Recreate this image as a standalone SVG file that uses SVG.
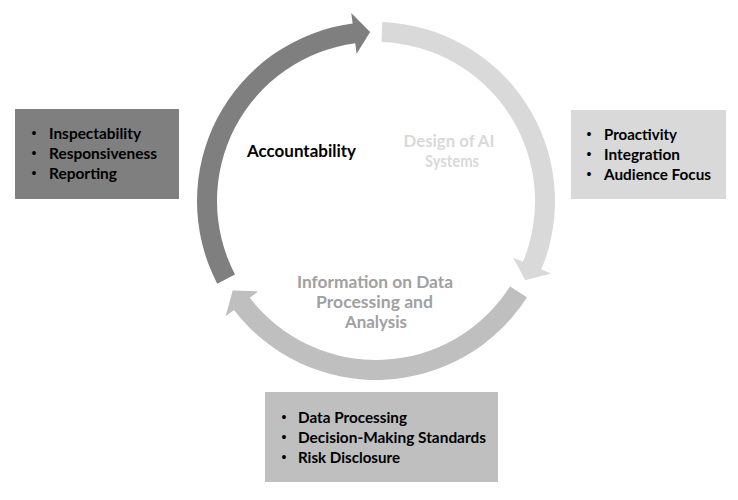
<svg xmlns="http://www.w3.org/2000/svg" width="738" height="500" viewBox="0 0 738 500">
<style>
.t{font-family:Lato,"Liberation Sans",sans-serif;font-weight:bold;font-size:16px;fill:#000}
.lbl{font-family:Lato,"Liberation Sans",sans-serif;font-weight:bold;font-size:17.5px}
.b{font-family:"Liberation Sans",sans-serif;font-size:14px;fill:#000;text-anchor:middle}
</style>
<rect width="738" height="500" fill="#fff"/>
<g id="connectors">
<path id="arrow-accountability" fill="#7f7f7f" d="M217.23 283.65 A179 179 0 0 1 352.64 23.53 L351.26 13.12 L370.10 32.10 L356.62 53.77 L355.25 43.36 A159 159 0 0 0 234.97 274.42 Z"/>
<path id="arrow-design" fill="#d9d9d9" d="M382.25 22.11 A179 179 0 0 1 541.37 269.50 L551.08 273.52 L525.22 280.34 L513.20 257.83 L522.90 261.85 A159 159 0 0 0 381.55 42.10 Z"/>
<path id="arrow-information" fill="#bfbfbf" d="M526.97 297.18 A179 179 0 0 1 233.99 309.97 L225.66 316.36 L232.68 290.56 L258.19 291.40 L249.86 297.79 A159 159 0 0 0 510.10 286.43 Z"/>
</g>
<g id="node-accountability">
<text class="lbl" x="247" y="157" fill="#000" textLength="109" lengthAdjust="spacingAndGlyphs">Accountability</text>
</g>
<g id="node-design">
<text class="lbl" x="449" y="147" fill="#d9d9d9" text-anchor="middle" textLength="91" lengthAdjust="spacingAndGlyphs">Design of AI</text>
<text class="lbl" x="452" y="167" fill="#d9d9d9" text-anchor="middle" textLength="54" lengthAdjust="spacingAndGlyphs">Systems</text>
</g>
<g id="node-information">
<text class="lbl" x="375" y="288" fill="#a0a0a0" text-anchor="middle" textLength="156" lengthAdjust="spacingAndGlyphs">Information on Data</text>
<text class="lbl" x="374.5" y="308" fill="#a0a0a0" text-anchor="middle" textLength="117" lengthAdjust="spacingAndGlyphs">Processing and</text>
<text class="lbl" x="376" y="328" fill="#a0a0a0" text-anchor="middle" textLength="62" lengthAdjust="spacingAndGlyphs">Analysis</text>
</g>
<g id="box-accountability">
<rect x="15" y="109" width="164" height="90" fill="#7f7f7f"/>
<text class="b" x="34" y="138">•</text>
<text class="b" x="34" y="158">•</text>
<text class="b" x="34" y="178">•</text>
<text class="t" x="49" y="138.5" textLength="92" lengthAdjust="spacingAndGlyphs">Inspectability</text>
<text class="t" x="49" y="158.5" textLength="108" lengthAdjust="spacingAndGlyphs">Responsiveness</text>
<text class="t" x="49" y="178.5" textLength="68" lengthAdjust="spacingAndGlyphs">Reporting</text>
</g>
<g id="box-design">
<rect x="571" y="110" width="155" height="89" fill="#d9d9d9"/>
<text class="b" x="589" y="139">•</text>
<text class="b" x="589" y="159">•</text>
<text class="b" x="589" y="179">•</text>
<text class="t" x="604" y="139.5" textLength="73" lengthAdjust="spacingAndGlyphs">Proactivity</text>
<text class="t" x="604" y="159.5" textLength="76" lengthAdjust="spacingAndGlyphs">Integration</text>
<text class="t" x="604" y="179.5" textLength="107" lengthAdjust="spacingAndGlyphs">Audience Focus</text>
</g>
<g id="box-information">
<rect x="265" y="392" width="233" height="90" fill="#bfbfbf"/>
<text class="b" x="284" y="422">•</text>
<text class="b" x="284" y="442">•</text>
<text class="b" x="284" y="462">•</text>
<text class="t" x="298" y="422.5" textLength="109" lengthAdjust="spacingAndGlyphs">Data Processing</text>
<text class="t" x="298" y="442.5" textLength="188" lengthAdjust="spacingAndGlyphs">Decision-Making Standards</text>
<text class="t" x="298" y="462.5" textLength="102" lengthAdjust="spacingAndGlyphs">Risk Disclosure</text>
</g>
</svg>
